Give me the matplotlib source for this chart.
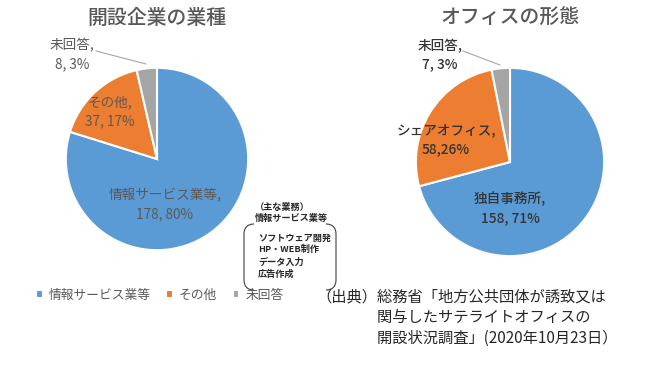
import matplotlib.pyplot as plt
from matplotlib.path import Path
from matplotlib.patches import PathPatch

plt.rcParams['font.family'] = ['Noto Sans CJK JP', 'DejaVu Sans']

# data
industry_names = ['情報サービス業等', 'その他', '未回答']
industry_counts = [178, 37, 8]
industry_pct = [80, 17, 3]

office_names = ['独自事務所', 'シェアオフィス', '未回答']
office_counts = [158, 58, 7]
office_pct = [71, 26, 3]

colors = ['#5B9BD5', '#ED7D31', '#A5A5A5']

W, H = 650, 377
fig = plt.figure(figsize=(6.5, 3.77), dpi=100)


def pie_axes(cx, cy, r):
    return fig.add_axes([(cx - r) / W, (H - cy - r) / H, 2 * r / W, 2 * r / H])


ax1 = pie_axes(157, 159, 93)
wedges1, _ = ax1.pie(industry_counts, colors=colors, startangle=90, counterclock=False,
                     wedgeprops=dict(edgecolor='white', linewidth=1.5))
ax1.set_xlim(-1.02, 1.02)
ax1.set_ylim(-1.02, 1.02)

ax2 = pie_axes(510, 162, 96)
wedges2, _ = ax2.pie(office_counts, colors=colors, startangle=90, counterclock=False,
                     wedgeprops=dict(edgecolor='white', linewidth=1.5))
ax2.set_xlim(-1.02, 1.02)
ax2.set_ylim(-1.02, 1.02)

# overlay in pixel coordinates for texts
ov = fig.add_axes([0, 0, 1, 1])
ov.set_xlim(0, W)
ov.set_ylim(H, 0)
ov.axis('off')
ov.patch.set_alpha(0)

ov.text(157, 18, '開設企業の業種', ha='center', va='center', fontsize=14.3,
        fontweight='medium', color='#595959')
ov.text(510, 18, 'オフィスの形態', ha='center', va='center', fontsize=14.3,
        fontweight='medium', color='#595959')

lab_col = '#595959'
fs = 9.8
# left pie labels
ov.text(165, 205, f'{industry_names[0]},\n{industry_counts[0]}, {industry_pct[0]}%',
        ha='center', va='center', fontsize=fs, color=lab_col, linespacing=1.45)
ov.text(110, 112, f'{industry_names[1]},\n{industry_counts[1]}, {industry_pct[1]}%',
        ha='center', va='center', fontsize=fs, color=lab_col, linespacing=1.45)
ov.text(72, 55, f'{industry_names[2]},\n{industry_counts[2]}, {industry_pct[2]}%',
        ha='center', va='center', fontsize=fs, color=lab_col, linespacing=1.45)
ov.plot([96, 146], [51, 64], color='#A6A6A6', lw=0.8)

# right pie labels
lab_col2 = '#333333'
ov.text(510, 208, f'{office_names[0]},\n{office_counts[0]}, {office_pct[0]}%',
        ha='center', va='center', fontsize=fs, color=lab_col2, linespacing=1.45,
        fontweight='medium')
ov.text(446, 140, f'{office_names[1]},\n{office_counts[1]},{office_pct[1]}%',
        ha='center', va='center', fontsize=fs, color=lab_col2, linespacing=1.45,
        fontweight='medium')
ov.text(440, 55, f'{office_names[2]},\n{office_counts[2]}, {office_pct[2]}%',
        ha='center', va='center', fontsize=fs, color=lab_col2, linespacing=1.45,
        fontweight='medium')
ov.plot([463, 500], [51, 65], color='#A6A6A6', lw=0.8)

# note box
ov.text(255, 213, '（主な業務）\n情報サービス業等', ha='left', va='center', fontsize=6.6,
        fontweight='bold', color='#262626', linespacing=1.4)
ov.text(258, 256, 'ソフトウェア開発\nHP・WEB制作\nデータ入力\n広告作成', ha='left', va='center',
        fontsize=6.6, fontweight='bold', color='#262626', linespacing=1.4)
for x0, x1 in [(254, 244), (326, 336)]:
    verts = [(x0, 224), (x1, 224), (x1, 234), (x1, 280), (x1, 290), (x0, 290)]
    codes = [Path.MOVETO, Path.CURVE3, Path.CURVE3, Path.LINETO, Path.CURVE3, Path.CURVE3]
    ov.add_patch(PathPatch(Path(verts, codes), fill=False, edgecolor='#404040', lw=0.8))

# source
src = ['（出典）総務省「地方公共団体が誘致又は',
       '　　　　関与したサテライトオフィスの',
       '　　　　開設状況調査」(2020年10月23日）']
for i, line in enumerate(src):
    ov.text(316, 297 + i * 20.5, line, ha='left', va='center', fontsize=11, color='#262626')

# legend
fig.legend(wedges1, industry_names, loc='center', bbox_to_anchor=(160 / W, 1 - 295 / H),
           ncol=3, frameon=False, fontsize=9.2, handlelength=0.5, handleheight=0.5,
           handletextpad=0.5, columnspacing=1.2, labelcolor='#595959')

fig.savefig('out.png', dpi=100)
